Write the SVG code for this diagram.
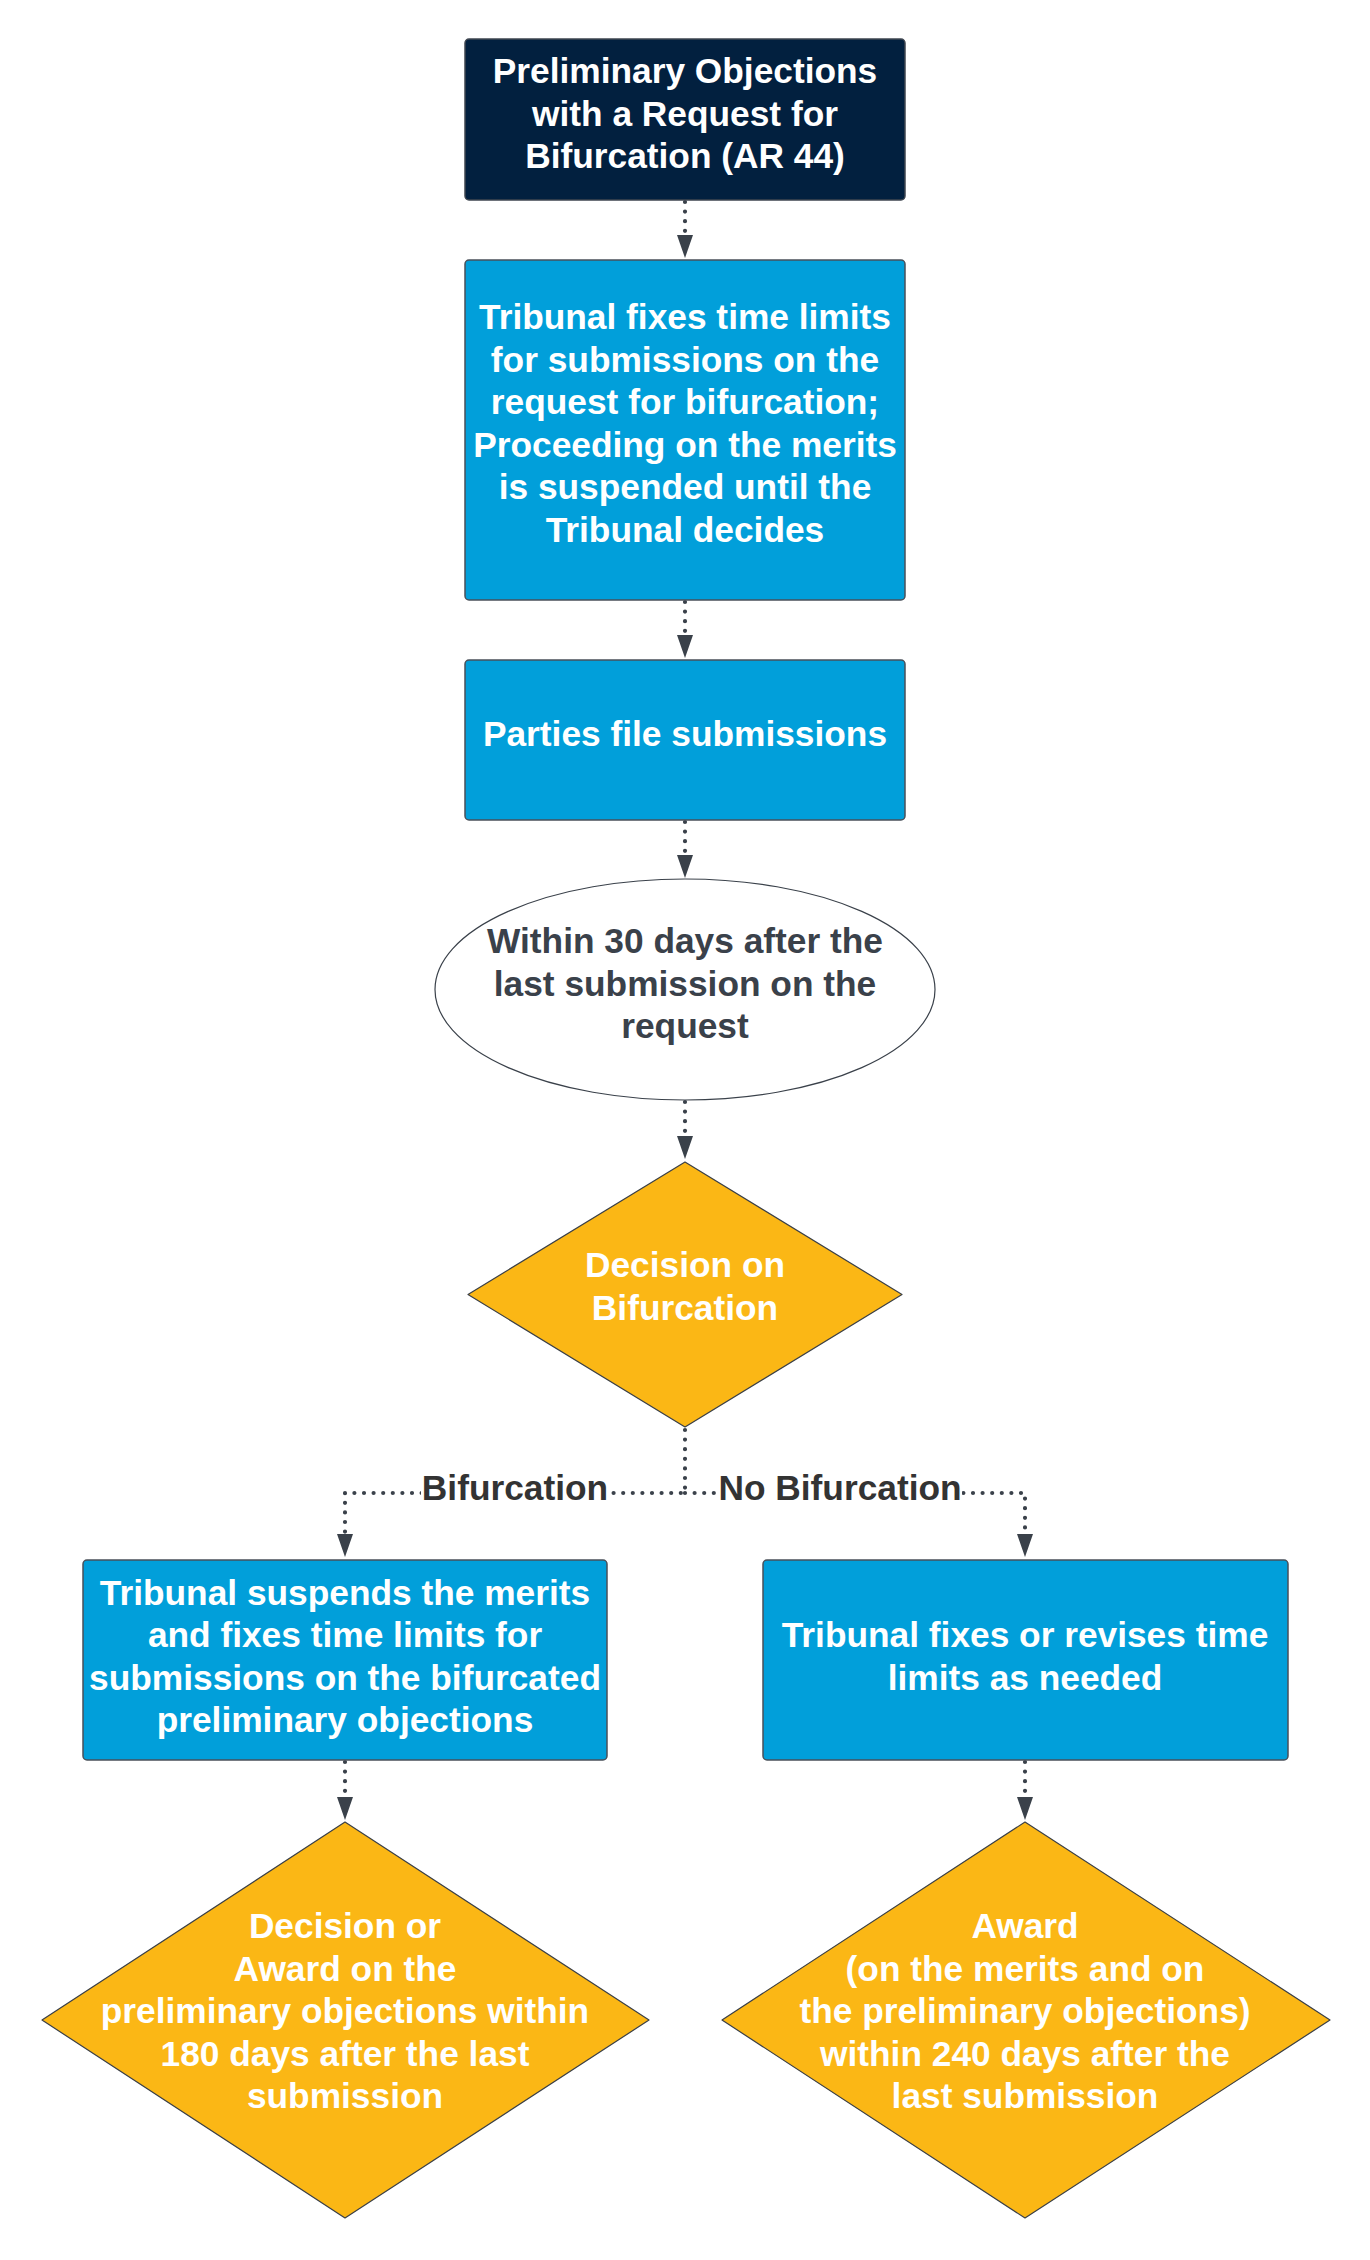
<svg xmlns="http://www.w3.org/2000/svg" width="1370" height="2260" viewBox="0 0 1370 2260">
<style>
text{font-family:"Liberation Sans",Arial,sans-serif;font-weight:bold;font-size:35.3px;text-anchor:middle}
.w{fill:#ffffff}
.d{fill:#3a414a}
.lbl{fill:#333333}
.navy{fill:#02203f;stroke:#3f4650;stroke-width:1.5}
.blue{fill:#019fda;stroke:#4a5059;stroke-width:1.5}
.dia{fill:#fbb715;stroke:#3a3f46;stroke-width:1.2;stroke-linejoin:round}
.ell{fill:#ffffff;stroke:#3a414a;stroke-width:1.2}
.con{fill:none;stroke:#3a414a;stroke-width:4.2;stroke-linecap:round;stroke-dasharray:0 9.6}
</style>
<rect width="1370" height="2260" fill="#ffffff"/>
<g id="connectors">
<path class="con" d="M685,202 V236"/>
<path d="M677,235 L693,235 L685,258 Z" fill="#3a414a"/>
<path class="con" d="M685,602 V636"/>
<path d="M677,635 L693,635 L685,658 Z" fill="#3a414a"/>
<path class="con" d="M685,822 V855"/>
<path d="M677,855 L693,855 L685,878 Z" fill="#3a414a"/>
<path class="con" d="M685,1102 V1136"/>
<path d="M677,1136 L693,1136 L685,1159 Z" fill="#3a414a"/>
<path class="con" d="M685,1430 V1493 H345 V1534"/>
<path class="con" d="M685,1493 H1025 V1534"/>
<path d="M337,1534 L353,1534 L345,1557 Z" fill="#3a414a"/>
<path d="M1017,1534 L1033,1534 L1025,1557 Z" fill="#3a414a"/>
<path class="con" d="M345,1762 V1796"/>
<path d="M337,1797 L353,1797 L345,1820 Z" fill="#3a414a"/>
<path class="con" d="M1025,1762 V1796"/>
<path d="M1017,1797 L1033,1797 L1025,1820 Z" fill="#3a414a"/>
<rect x="421" y="1468" width="188" height="40" fill="#ffffff"/>
<text class="lbl" x="515" y="1500">Bifurcation</text>
<rect x="717" y="1468" width="245" height="40" fill="#ffffff"/>
<text class="lbl" x="840" y="1500">No Bifurcation</text>
</g>
<g id="n1">
<rect class="navy" x="465" y="39" width="440" height="161" rx="4"/>
<text class="w" x="685" y="83">Preliminary Objections</text>
<text class="w" x="685" y="125.5">with a Request for</text>
<text class="w" x="685" y="168">Bifurcation (AR 44)</text>
</g>
<g id="n2">
<rect class="blue" x="465" y="260" width="440" height="340" rx="4"/>
<text class="w" x="685" y="329">Tribunal fixes time limits</text>
<text class="w" x="685" y="371.5">for submissions on the</text>
<text class="w" x="685" y="414">request for bifurcation;</text>
<text class="w" x="685" y="456.5">Proceeding on the merits</text>
<text class="w" x="685" y="499">is suspended until the</text>
<text class="w" x="685" y="541.5">Tribunal decides</text>
</g>
<g id="n3">
<rect class="blue" x="465" y="660" width="440" height="160" rx="4"/>
<text class="w" x="685" y="746">Parties file submissions</text>
</g>
<g id="n4">
<ellipse class="ell" cx="685" cy="989.5" rx="250" ry="110.5"/>
<text class="d" x="685" y="953">Within 30 days after the</text>
<text class="d" x="685" y="995.5">last submission on the</text>
<text class="d" x="685" y="1037.5">request</text>
</g>
<g id="n5">
<path class="dia" d="M685,1162 L902,1294.5 L685,1427 L468,1294.5 Z"/>
<text class="w" x="685" y="1277">Decision on</text>
<text class="w" x="685" y="1320">Bifurcation</text>
</g>
<g id="n6">
<rect class="blue" x="83" y="1560" width="524" height="200" rx="4"/>
<text class="w" x="345" y="1605">Tribunal suspends the merits</text>
<text class="w" x="345" y="1647">and fixes time limits for</text>
<text class="w" x="345" y="1689.5">submissions on the bifurcated</text>
<text class="w" x="345" y="1732">preliminary objections</text>
</g>
<g id="n7">
<rect class="blue" x="763" y="1560" width="525" height="200" rx="4"/>
<text class="w" x="1025" y="1647">Tribunal fixes or revises time</text>
<text class="w" x="1025" y="1689.5">limits as needed</text>
</g>
<g id="n8">
<path class="dia" d="M345,1822 L649,2020 L345,2218 L42,2020 Z"/>
<text class="w" x="345" y="1938">Decision or</text>
<text class="w" x="345" y="1981">Award on the</text>
<text class="w" x="345" y="2023">preliminary objections within</text>
<text class="w" x="345" y="2066">180 days after the last</text>
<text class="w" x="345" y="2108">submission</text>
</g>
<g id="n9">
<path class="dia" d="M1025,1822 L1330,2020 L1025,2218 L722,2020 Z"/>
<text class="w" x="1025" y="1938">Award</text>
<text class="w" x="1025" y="1981">(on the merits and on</text>
<text class="w" x="1025" y="2023">the preliminary objections)</text>
<text class="w" x="1025" y="2066">within 240 days after the</text>
<text class="w" x="1025" y="2108">last submission</text>
</g>
</svg>
